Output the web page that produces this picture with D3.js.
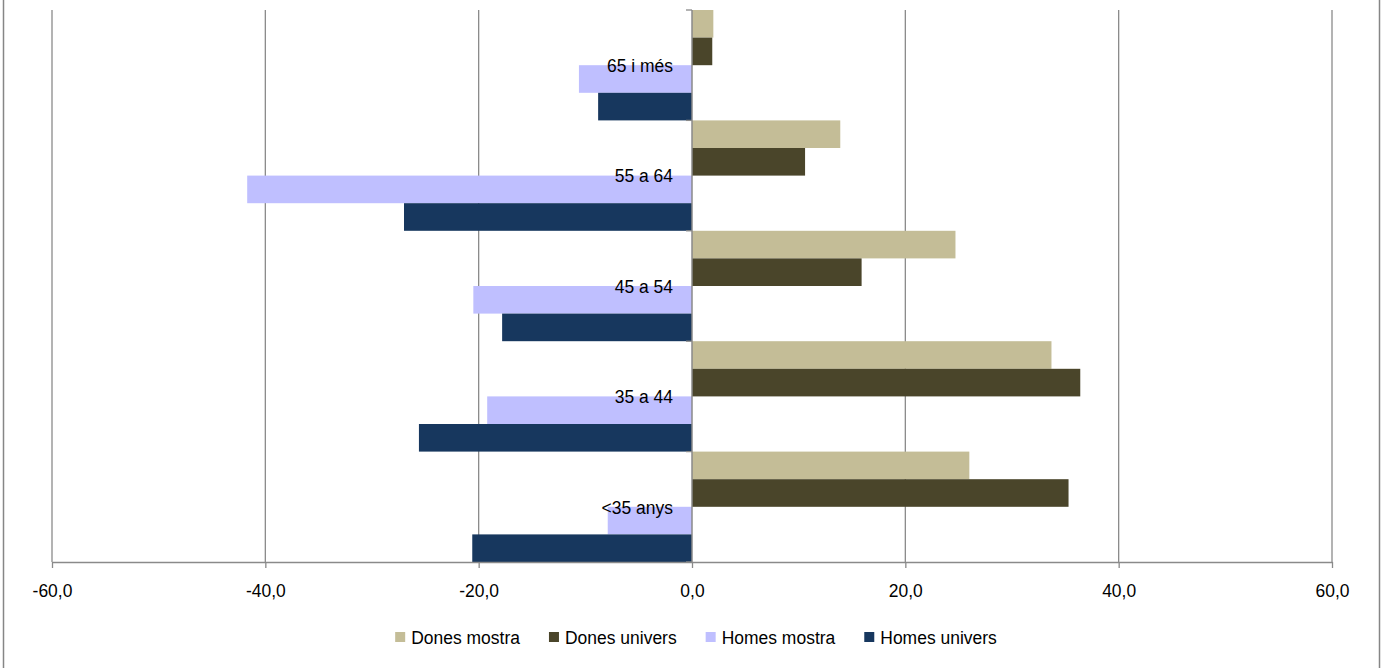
<!DOCTYPE html>
<html>
<head>
<meta charset="utf-8">
<script src="https://cdn.jsdelivr.net/npm/d3@7"></script>
<style>
  html, body { margin: 0; padding: 0; background: #fff; }
  svg { display: block; }
  text { font-family: "Liberation Sans", Arial, sans-serif; fill: #000; }
</style>
</head>
<body>
<script>
const categories = ["65 i més", "55 a 64", "45 a 54", "35 a 44", "<35 anys"];
const seriesNames = ["Dones mostra", "Dones univers", "Homes mostra", "Homes univers"];
const seriesColors = ["#C4BD97", "#4A452A", "#BFBFFF", "#17375E"];
const donesMostra  = [2.0, 13.9, 24.7, 33.7, 26.0];
const donesUnivers = [1.9, 10.6, 15.9, 36.4, 35.3];
const homesMostra  = [-10.6, -41.7, -20.5, -19.2, -7.9];
const homesUnivers = [-8.8, -27.0, -17.8, -25.6, -20.6];
const xTicks = [-60, -40, -20, 0, 20, 40, 60];

const seriesValues = [donesMostra, donesUnivers, homesMostra, homesUnivers];

const W = 1387, H = 668;
const FS = 19, SX = 0.92;
const svg = d3.select("body").append("svg").attr("width", W).attr("height", H);

// outer frame (left and right edges visible)
svg.append("line").attr("x1", 3.5).attr("x2", 3.5).attr("y1", 0).attr("y2", H)
  .attr("stroke", "#868686").attr("stroke-width", 1.5);
svg.append("line").attr("x1", 1379.5).attr("x2", 1379.5).attr("y1", 0).attr("y2", H)
  .attr("stroke", "#868686").attr("stroke-width", 1.5);

const x = d3.scaleLinear().domain([-60, 60]).range([52, 1332]);
const y = d3.scaleBand().domain(categories).range([10, 562]).padding(0);
const yInner = d3.scaleBand().domain(seriesNames).range([0, y.bandwidth()]).padding(0);

const gridColor = "#8a8a8a";

// gridlines
svg.append("g").selectAll("line").data(xTicks.filter(t => t !== 0)).join("line")
  .attr("x1", d => x(d)).attr("x2", d => x(d))
  .attr("y1", 10).attr("y2", 562)
  .attr("stroke", gridColor).attr("stroke-width", 1.3);

// bars
const flat = [];
categories.forEach((c, i) => {
  seriesNames.forEach((s, j) => {
    flat.push({ cat: c, series: s, value: seriesValues[j][i], color: seriesColors[j] });
  });
});
svg.append("g").selectAll("rect").data(flat).join("rect")
  .attr("x", d => Math.min(x(0), x(d.value)))
  .attr("width", d => Math.abs(x(d.value) - x(0)))
  .attr("y", d => y(d.cat) + yInner(d.series))
  .attr("height", yInner.bandwidth())
  .attr("fill", d => d.color);

// bottom axis
const xAxis = d3.axisBottom(x).tickValues(xTicks).tickSize(6).tickSizeOuter(0)
  .tickFormat(d => d.toFixed(1).replace(".", ","));
const gx = svg.append("g").attr("transform", "translate(0,562)").call(xAxis);
gx.select(".domain").attr("stroke", gridColor).attr("stroke-width", 1.5);
gx.selectAll(".tick line").attr("stroke", gridColor).attr("stroke-width", 1.3);
gx.selectAll(".tick text")
  .attr("font-size", FS).attr("y", 28).attr("dy", null)
  .attr("dominant-baseline", "central")
  .attr("transform", `scale(${SX},1)`)
  .style("font-family", '"Liberation Sans", Arial, sans-serif').attr("fill", "#000");

// vertical category axis at zero
svg.append("line").attr("x1", x(0)).attr("x2", x(0)).attr("y1", 10).attr("y2", 562)
  .attr("stroke", gridColor).attr("stroke-width", 1.5);
const boundaries = categories.map(c => y(c)).concat([y.range()[1]]);
svg.append("g").selectAll("line").data(boundaries).join("line")
  .attr("x1", x(0) - 6).attr("x2", x(0))
  .attr("y1", d => d).attr("y2", d => d)
  .attr("stroke", gridColor).attr("stroke-width", 1.3);

// category labels
svg.append("g").selectAll("g").data(categories).join("g")
  .attr("transform", d => `translate(${x(0) - 19},${y(d) + y.bandwidth() / 2}) scale(${SX},1)`)
  .append("text")
  .attr("text-anchor", "end")
  .attr("dominant-baseline", "central")
  .attr("font-size", FS)
  .text(d => d);

// legend
const legend = svg.append("g");
const items = legend.selectAll("g.item").data(seriesNames).join("g").attr("class", "item");
items.append("rect").attr("width", 10).attr("height", 10).attr("y", -5)
  .attr("fill", (d, i) => seriesColors[i]);
items.append("g").attr("transform", `translate(16,0) scale(${SX},1)`)
  .append("text").attr("dominant-baseline", "central")
  .attr("font-size", FS).text(d => d);
let widths = [];
items.each(function () { widths.push(16 + SX * d3.select(this).select("text").node().getComputedTextLength()); });
const gap = 29;
const total = d3.sum(widths) + gap * (widths.length - 1);
let cx = 696 - total / 2;
items.attr("transform", (d, i) => {
  const t = `translate(${cx},637)`;
  cx += widths[i] + gap;
  return t;
});
</script>
</body>
</html>
